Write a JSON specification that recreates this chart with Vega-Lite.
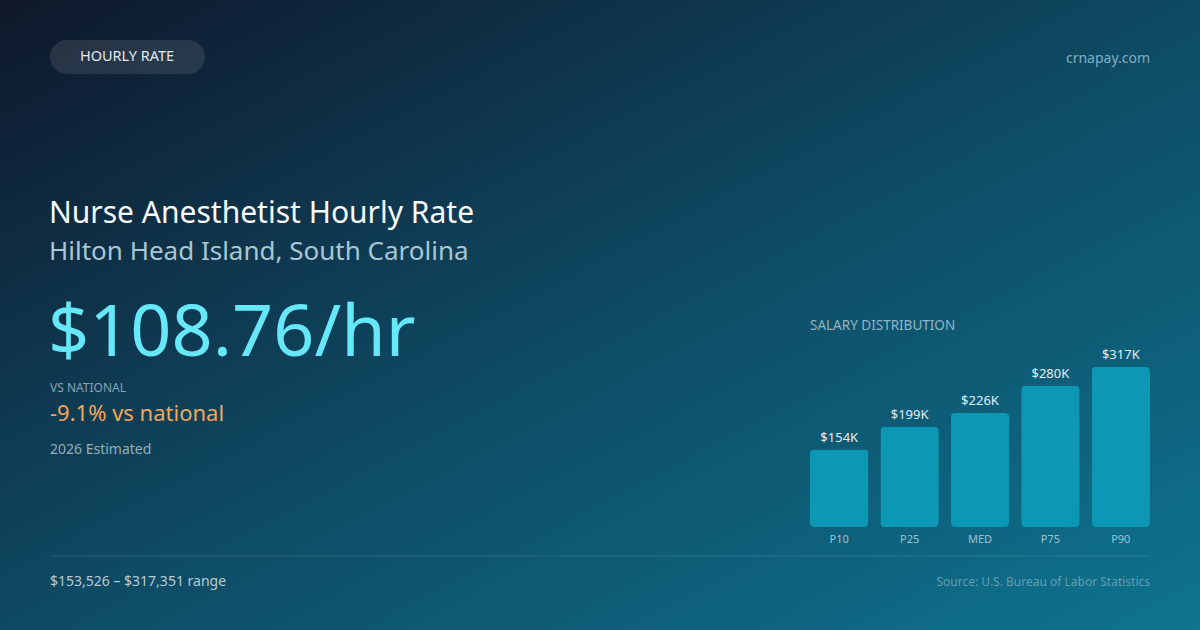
{
  "$schema": "https://vega.github.io/schema/vega-lite/v6.json",
  "width": 1200,
  "height": 630,
  "padding": 0,
  "autosize": {"type": "fit", "contains": "padding"},
  "data": {
    "values": [
      {"pct": "P10", "salary": 153526},
      {"pct": "P25", "salary": 199000},
      {"pct": "MED", "salary": 226000},
      {"pct": "P75", "salary": 280000},
      {"pct": "P90", "salary": 317351}
    ]
  },
  "layer": [
    {
      "mark": {"type": "bar", "color": "#0c97b5", "cornerRadius": 4},
      "encoding": {
        "x": {"field": "pct", "type": "nominal", "sort": null, "axis": null,
          "scale": {"range": [810, 1150], "paddingInner": 0.17, "paddingOuter": 0}},
        "y": {"field": "salary", "type": "quantitative", "axis": null,
          "scale": {"domain": [0, 317351], "range": [527, 367], "nice": false}}
      }
    },
    {
      "transform": [{"calculate": "'$' + format(datum.salary / 1000, '.0f') + 'K'", "as": "lbl"}],
      "mark": {"type": "text", "font": "Noto Sans", "fontSize": 13, "color": "#e2edf2", "baseline": "alphabetic", "dy": -8},
      "encoding": {
        "x": {"field": "pct", "type": "nominal", "sort": null, "band": 0.5},
        "y": {"field": "salary", "type": "quantitative"},
        "text": {"field": "lbl"}
      }
    },
    {
      "mark": {"type": "text", "font": "Noto Sans", "fontSize": 11, "color": "#9cc3d2", "baseline": "alphabetic", "dy": 16},
      "encoding": {
        "x": {"field": "pct", "type": "nominal", "sort": null, "band": 0.5},
        "y": {"datum": 0, "type": "quantitative"},
        "text": {"field": "pct"}
      }
    },
    {
      "data": {"values": [{}]},
      "mark": {"type": "rect", "cornerRadius": 17, "color": "#ffffff", "opacity": 0.1},
      "encoding": {"x": {"value": 50}, "x2": {"value": 205}, "y": {"value": 40}, "y2": {"value": 74}}
    },
    {
      "data": {"values": [{"t": "HOURLY RATE"}]},
      "mark": {"type": "text", "font": "Noto Sans", "fontSize": 14.5, "color": "#e2e8f0", "align": "center", "baseline": "middle"},
      "encoding": {"x": {"value": 127}, "y": {"value": 57}, "text": {"field": "t"}}
    },
    {
      "data": {"values": [{"t": "crnapay.com"}]},
      "mark": {"type": "text", "font": "Noto Sans", "fontSize": 14, "color": "#7fb0c2", "align": "right", "baseline": "alphabetic"},
      "encoding": {"x": {"value": 1150}, "y": {"value": 63}, "text": {"field": "t"}}
    },
    {
      "data": {"values": [{"t": "Nurse Anesthetist Hourly Rate"}]},
      "mark": {"type": "text", "font": "Noto Sans", "fontSize": 30, "color": "#f8fafc", "align": "left", "baseline": "alphabetic"},
      "encoding": {"x": {"value": 49}, "y": {"value": 223}, "text": {"field": "t"}}
    },
    {
      "data": {"values": [{"t": "Hilton Head Island, South Carolina"}]},
      "mark": {"type": "text", "font": "Noto Sans", "fontSize": 26, "color": "#a9c6d4", "align": "left", "baseline": "alphabetic"},
      "encoding": {"x": {"value": 49}, "y": {"value": 260}, "text": {"field": "t"}}
    },
    {
      "data": {"values": [{"t": "$108.76/hr"}]},
      "mark": {"type": "text", "font": "Noto Sans", "fontSize": 72, "color": "#67e8f9", "align": "left", "baseline": "alphabetic"},
      "encoding": {"x": {"value": 48}, "y": {"value": 356}, "text": {"field": "t"}}
    },
    {
      "data": {"values": [{"t": "VS NATIONAL"}]},
      "mark": {"type": "text", "font": "Noto Sans", "fontSize": 12, "color": "#8aa4b4", "align": "left", "baseline": "alphabetic"},
      "encoding": {"x": {"value": 50}, "y": {"value": 392}, "text": {"field": "t"}}
    },
    {
      "data": {"values": [{"t": "-9.1% vs national"}]},
      "mark": {"type": "text", "font": "Noto Sans", "fontSize": 22, "color": "#f2a65a", "align": "left", "baseline": "alphabetic"},
      "encoding": {"x": {"value": 50}, "y": {"value": 421}, "text": {"field": "t"}}
    },
    {
      "data": {"values": [{"t": "2026 Estimated"}]},
      "mark": {"type": "text", "font": "Noto Sans", "fontSize": 14, "color": "#93aebd", "align": "left", "baseline": "alphabetic"},
      "encoding": {"x": {"value": 50}, "y": {"value": 454}, "text": {"field": "t"}}
    },
    {
      "data": {"values": [{"t": "SALARY DISTRIBUTION"}]},
      "mark": {"type": "text", "font": "Noto Sans", "fontSize": 13.5, "color": "#8fb5c6", "align": "left", "baseline": "alphabetic"},
      "encoding": {"x": {"value": 810}, "y": {"value": 330}, "text": {"field": "t"}}
    },
    {
      "data": {"values": [{}]},
      "mark": {"type": "rule", "color": "#ffffff", "opacity": 0.12, "strokeWidth": 1},
      "encoding": {"x": {"value": 50}, "x2": {"value": 1150}, "y": {"value": 556}}
    },
    {
      "data": {"values": [{"t": "$153,526 – $317,351 range"}]},
      "mark": {"type": "text", "font": "Noto Sans", "fontSize": 14, "color": "#b6cbd6", "align": "left", "baseline": "alphabetic"},
      "encoding": {"x": {"value": 50}, "y": {"value": 586}, "text": {"field": "t"}}
    },
    {
      "data": {"values": [{"t": "Source: U.S. Bureau of Labor Statistics"}]},
      "mark": {"type": "text", "font": "Noto Sans", "fontSize": 12, "color": "#5f9fb5", "align": "right", "baseline": "alphabetic"},
      "encoding": {"x": {"value": 1150}, "y": {"value": 586}, "text": {"field": "t"}}
    }
  ],
  "config": {
    "view": {
      "stroke": null,
      "fill": {
        "gradient": "linear",
        "x1": 0, "y1": 0, "x2": 1, "y2": 1,
        "stops": [
          {"offset": 0, "color": "#0f172a"},
          {"offset": 0.5, "color": "#0e4a63"},
          {"offset": 1, "color": "#0e7490"}
        ]
      }
    }
  }
}
